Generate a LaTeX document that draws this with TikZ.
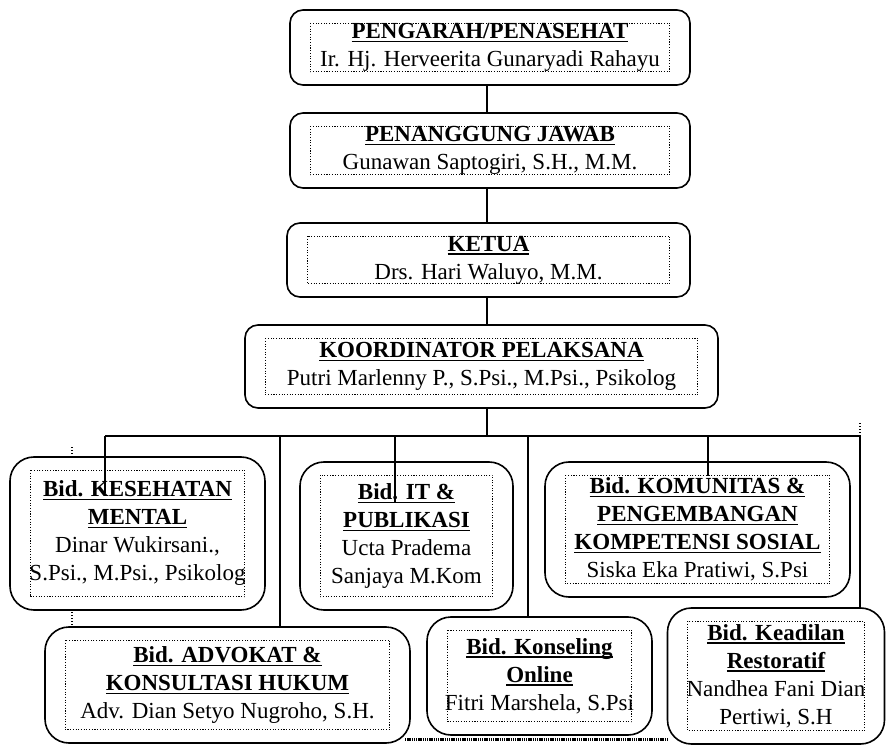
\documentclass[tikz,border=0pt]{standalone}
\usepackage{fontspec}
\setmainfont{Liberation Serif}
\newcommand\ttl[1]{\setbox0\hbox{\bfseries #1}\leavevmode\rlap{\copy0}\rule[-3.5pt]{\wd0}{1.4pt}}
\begin{document}
\begin{tikzpicture}[x=1pt,y=-1pt,
  box/.style={draw, line width=1.6pt, rounded corners=#1, inner sep=0pt, align=center,
              font=\fontsize{23}{28}\selectfont},
  box/.default=13pt,
  innerdot/.style={line width=1.1pt, dash pattern=on 1.1pt off 1.6pt},
  conn/.style={line width=1.6pt},
  thickv/.style={line width=2.2pt},
  hatch/.style={line width=3pt, dash pattern=on 1.3pt off 0.9pt},
  tick/.style={line width=1.2pt, dash pattern=on 1.2pt off 1.8pt}]
\useasboundingbox (0,0) rectangle (887,746);
\newcommand\innerbox[1]{\draw[innerdot] ([shift={(21pt,-14pt)}]#1.north west) rectangle ([shift={(-21pt,14pt)}]#1.south east);}

% top chain
\node[box, minimum width=400pt, minimum height=75pt] (peng) at (490,47.5)
  {\ttl{PENGARAH/PENASEHAT}\\Ir. Hj. Herveerita Gunaryadi Rahayu};
\node[box, minimum width=400pt, minimum height=75pt] (pj) at (490,150.5)
  {\ttl{PENANGGUNG JAWAB}\\Gunawan Saptogiri, S.H., M.M.};
\node[box, minimum width=403pt, minimum height=74pt] (ketua) at (488.5,260)
  {\ttl{KETUA}\\Drs. Hari Waluyo, M.M.};
\node[box, minimum width=473pt, minimum height=83pt] (koord) at (481.5,366.5)
  {\ttl{KOORDINATOR PELAKSANA}\\Putri Marlenny P., S.Psi., M.Psi., Psikolog};

% divisions
\node[box=24pt, minimum width=255pt, minimum height=153pt] (kes) at (137.5,533.5)
  {\ttl{Bid. KESEHATAN}\\\ttl{MENTAL}\\Dinar Wukirsani.,\\S.Psi., M.Psi., Psikolog};
\node[box=24pt, minimum width=213pt, minimum height=148pt] (it) at (406.5,536)
  {\ttl{Bid. IT \&}\\\ttl{PUBLIKASI}\\Ucta Pradema\\Sanjaya M.Kom};
\node[box=24pt, minimum width=305pt, minimum height=135pt] (kom) at (697.5,529.5)
  {\ttl{Bid. KOMUNITAS \&}\\\ttl{PENGEMBANGAN}\\\ttl{KOMPETENSI SOSIAL}\\Siska Eka Pratiwi, S.Psi};
\node[box=24pt, minimum width=365pt, minimum height=116pt] (adv) at (227.5,685)
  {\ttl{Bid. ADVOKAT \&}\\\ttl{KONSULTASI HUKUM}\\Adv. Dian Setyo Nugroho, S.H.};
\node[box=24pt, minimum width=225pt, minimum height=118pt] (kons) at (539.5,676)
  {\ttl{Bid. Konseling}\\\ttl{Online}\\Fitri Marshela, S.Psi};
\node[box=24pt, minimum width=217pt, minimum height=136pt] (kead) at (776,676)
  {\ttl{Bid. Keadilan}\\\ttl{Restoratif}\\Nandhea Fani Dian\\Pertiwi, S.H};

\foreach \n in {peng,pj,ketua,koord,kes,it,kom,adv,kons,kead} {\innerbox{\n}}

% connectors
\coordinate (spine) at (487,0);
\draw[conn] (peng.south -| spine) -- (pj.north -| spine);
\draw[conn] (pj.south -| spine) -- (ketua.north -| spine);
\draw[conn] (ketua.south -| spine) -- (koord.north -| spine);
\coordinate (busL) at (105,436);
\coordinate (busR) at (860,436);
\draw[conn] (koord.south -| spine) -- (spine |- busL);
\draw[conn] (busL) -- (busR);
\coordinate (d1) at (105,493);
\draw[conn] (busL) -- (d1);
\coordinate (b2) at (280,436);
\draw[conn] (b2) -- (adv.north -| b2);
\coordinate (b3) at (395,436);
\coordinate (d3) at (395,503);
\draw[conn] (b3) -- (d3);
\coordinate (b4) at (528,436);
\draw[conn] (b4) -- (kons.north -| b4);
\coordinate (b5) at (708,436);
\coordinate (d5) at (708,476);
\draw[conn] (b5) -- (d5);
\draw[thickv] (busR) -- (kead.north -| busR);
\coordinate (rt) at (860,423);
\draw[tick] (rt) -- (busR);
% bottom hatched line
\coordinate (hl) at (405,739);
\coordinate (hr) at (668,739);
\draw[hatch] (hl) -- (hr);
% small dotted marks
\coordinate (m1) at (72,447); \coordinate (m2) at (72,456);
\coordinate (m3) at (72,612); \coordinate (m4) at (72,627);
\draw[tick] (m1) -- (m2);
\draw[tick] (m3) -- (m4);
\end{tikzpicture}
\end{document}
